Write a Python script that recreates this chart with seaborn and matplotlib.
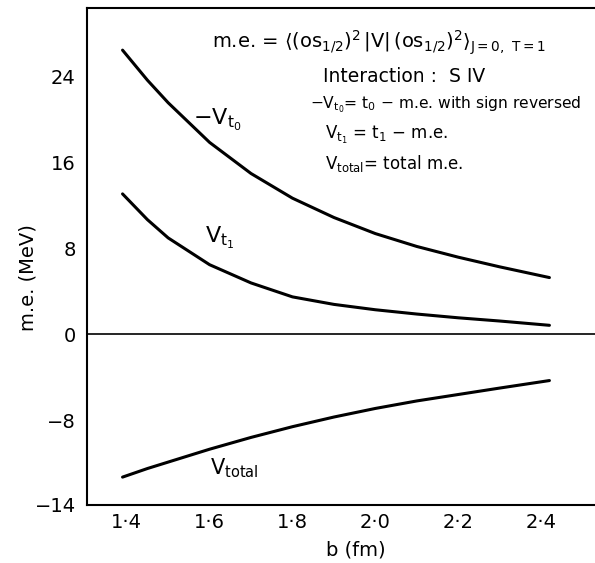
import numpy as np
import pandas as pd
import matplotlib
matplotlib.use("Agg")
import matplotlib.pyplot as plt
import seaborn as sns

# =========================
# data
# =========================
b_fm = [1.39, 1.45, 1.50, 1.60, 1.70, 1.80, 1.90, 2.00, 2.10, 2.20, 2.30, 2.42]
minus_v_t0 = [26.5, 23.7, 21.6, 17.9, 15.0, 12.7, 10.9, 9.4, 8.2, 7.2, 6.3, 5.3]
v_t1 = [13.1, 10.7, 9.0, 6.5, 4.8, 3.5, 2.8, 2.3, 1.9, 1.55, 1.25, 0.85]
v_total = [-13.3, -12.5, -11.9, -10.7, -9.6, -8.6, -7.7, -6.9, -6.2, -5.6, -5.0, -4.3]

x_ticks = [1.4, 1.6, 1.8, 2.0, 2.2, 2.4]
x_labels = ["1·4", "1·6", "1·8", "2·0", "2·2", "2·4"]
y_ticks = [24, 16, 8, 0, -8, -15.9]
y_labels = ["24", "16", "8", "0", "−8", "−14"]

df = pd.DataFrame({"b": b_fm * 3,
                   "me": minus_v_t0 + v_t1 + v_total,
                   "curve": ["-Vt0"] * len(b_fm) + ["Vt1"] * len(b_fm) + ["Vtotal"] * len(b_fm)})

# =========================
# style
# =========================
sns.set_style("white")
plt.rcParams["font.family"] = ["DejaVu Sans"]
plt.rcParams["mathtext.default"] = "regular"
plt.rcParams["text.color"] = "black"
plt.rcParams["axes.labelcolor"] = "black"

W, H = 595, 563
fig = plt.figure(figsize=(W / 100, H / 100), dpi=100)
ax = fig.add_axes([86.7 / W, 1 - 505 / H, 1 - 86.7 / W, (505 - 8.3) / H])

sns.lineplot(data=df, x="b", y="me", hue="curve", palette=["black"] * 3,
             linewidth=2.2, legend=False, ax=ax)
ax.axhline(0, color="black", linewidth=1.2)

ax.set_xlim(1.3035, 2.53)
ax.set_ylim(-15.9, 30.4)
ax.set_xticks(x_ticks)
ax.set_xticklabels(x_labels)
ax.set_yticks(y_ticks)
ax.set_yticklabels(y_labels)
ax.tick_params(axis="both", direction="in", length=14, width=1.3, labelsize=14, colors="black")
ax.tick_params(axis="y", pad=8)
ax.tick_params(axis="x", pad=6)

for s in ["left", "top", "bottom"]:
    ax.spines[s].set_linewidth(1.5)
    ax.spines[s].set_color("black")
ax.spines["right"].set_visible(False)

ax.set_xlabel("b (fm)", fontsize=14)
ax.set_ylabel("m.e. (MeV)", fontsize=14)
ax.xaxis.set_label_coords((356 - 86.7) / (W - 86.7), -(550 - 505) / (505 - 8.3))
ax.yaxis.set_label_coords(-(87 - 28) / (W - 86.7), (505 - 278) / (505 - 8.3))
ax.xaxis.label.set_va("center")
ax.yaxis.label.set_va("center")

# curve labels
def px(x, y):
    return x / W, 1 - y / H

fig.text(*px(193, 120), r"$-V_{t_0}$", fontsize=16, va="center")
fig.text(*px(205, 238), r"$V_{t_1}$", fontsize=16, va="center")
fig.text(*px(210, 468), r"$V_{total}$", fontsize=15, va="center")

# annotation block
fig.text(*px(212, 43), r"m.e. = $\langle(os_{1/2})^2\,|V|\,(os_{1/2})^2\rangle_{J=0,\ T=1}$",
         fontsize=14, va="center")
fig.text(*px(323, 77), "Interaction :  S IV", fontsize=13.5, va="center")
fig.text(*px(310, 105), r"$-V_{t_0}$= t$_0$ − m.e. with sign reversed", fontsize=11.2, va="center")
fig.text(*px(325, 135), r"$V_{t_1}$ = t$_1$ − m.e.", fontsize=12, va="center")
fig.text(*px(325, 163), r"$V_{total}$= total m.e.", fontsize=12, va="center")

fig.savefig("out.png", dpi=100)
